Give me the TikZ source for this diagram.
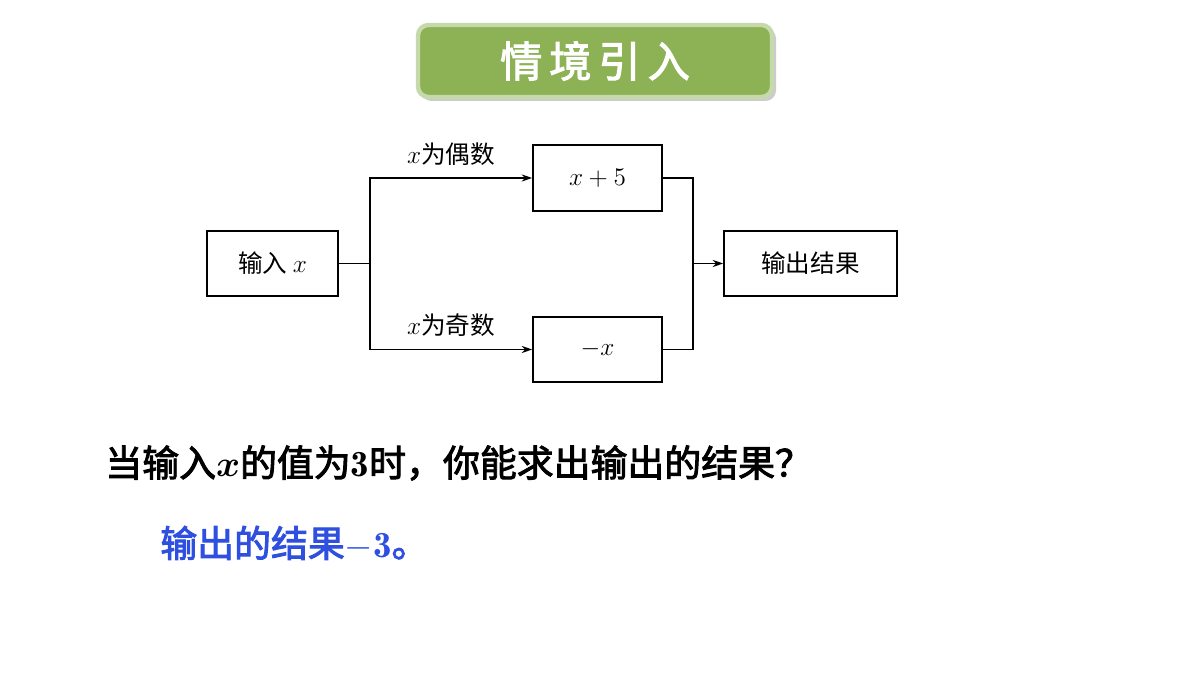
\documentclass[tikz,border=0pt]{standalone}
\usepackage{amsmath}
\usepackage{bm}
\usepackage{fontspec}
\newfontfamily\cjk{Noto Sans CJK SC}
\newfontfamily\cjkb[FakeBold=2.5]{Noto Sans CJK SC}
\usetikzlibrary{arrows.meta}
\definecolor{ban}{HTML}{8DB255}
\definecolor{blu}{HTML}{2E4FE0}
\begin{document}
\begin{tikzpicture}[x=0.02cm,y=-0.02cm,
  bx/.style={draw,line width=0.9pt,inner sep=0pt,font=\cjk\fontsize{14}{16}\selectfont},
  ln/.style={line width=0.9pt},
  ar/.style={ln,-{Stealth[length=6pt,width=4pt]}},
  lb/.style={font=\cjk\fontsize{14}{16}\selectfont,inner sep=1pt}]
\useasboundingbox[fill=white] (0,0) rectangle (1200,675);
\fill[gray!40,rounded corners=6pt] (421,28) rectangle (776,101);
\fill[ban,draw=ban!50!white,line width=2.5pt,rounded corners=6pt] (418,25) rectangle (772,97);
\node[text=white,font=\cjkb\fontsize{24}{26}\selectfont] (title) at (595,61) {情\,境\,引\,入};
\node[bx,minimum width=2.62cm,minimum height=1.3cm] (in) at (272.5,263.5) {输入 $x$};
\node[bx,minimum width=2.58cm,minimum height=1.32cm] (a) at (597.5,178) {$x+5$};
\node[bx,minimum width=2.58cm,minimum height=1.3cm] (b) at (597.5,349.5) {$-x$};
\node[bx,minimum width=3.46cm,minimum height=1.3cm] (out) at (810.5,263.5) {输出结果};
\coordinate (s) at (370,263.5);
\coordinate (j) at (693,263.5);
\draw[ln] (in.east) -- (s);
\draw[ar] (s) |- (a.west);
\draw[ar] (s) |- (b.west);
\draw[ln] (a.east) -| (j) |- (b.east);
\draw[ar] (j) -- (out.west);
\node[lb,anchor=south] (l1) at (451,168) {$x$为偶数};
\node[lb,anchor=south] (l2) at (451,339) {$x$为奇数};
\node[anchor=west,font=\cjkb\fontsize{21}{24}\selectfont,inner sep=0pt] (q) at (105,463) {当输入$\bm{x}$的值为$\mathbf{3}$时，你能求出输出的结果？};
\node[anchor=west,text=blu,font=\cjkb\fontsize{21}{24}\selectfont,inner sep=0pt] (ans) at (160,543) {输出的结果$\mathbf{-3}$。};
\end{tikzpicture}
\end{document}
